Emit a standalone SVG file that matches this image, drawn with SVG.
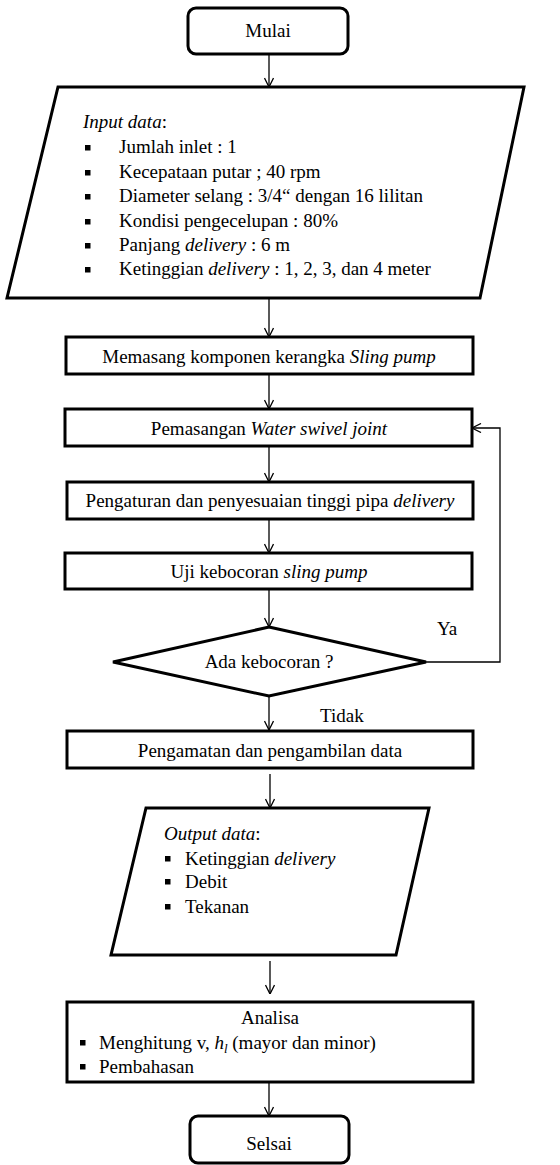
<svg xmlns="http://www.w3.org/2000/svg" width="560" height="1165" viewBox="0 0 560 1165">
<style>
.box{fill:#fff;stroke:#000;stroke-width:3}
.con{fill:none;stroke:#000;stroke-width:1.3}
text{font-family:"Liberation Serif","Times New Roman",serif;font-size:19px;fill:#000}
.c{text-anchor:middle}
.i{font-style:italic}
.b{fill:#000}
</style>
<defs>
<marker id="ah" viewBox="0 0 10 10" refX="10" refY="5" markerWidth="10" markerHeight="10" markerUnits="userSpaceOnUse" orient="auto">
<path d="M1,0.5 L10,5 L1,9.5" fill="none" stroke="#000" stroke-width="1.3"/>
</marker>
</defs>
<rect width="560" height="1165" fill="#fff"/>
<g id="connectors">
<path class="con" d="M269,54 V87" marker-end="url(#ah)"/>
<path class="con" d="M269,298 V337" marker-end="url(#ah)"/>
<path class="con" d="M269,374 V409" marker-end="url(#ah)"/>
<path class="con" d="M269,446 V482" marker-end="url(#ah)"/>
<path class="con" d="M269,519 V553" marker-end="url(#ah)"/>
<path class="con" d="M269,589 V627" marker-end="url(#ah)"/>
<path class="con" d="M426,662 H500 V428 H472" marker-end="url(#ah)"/>
<path class="con" d="M269,696 V730" marker-end="url(#ah)"/>
<path class="con" d="M270,774 V808" marker-end="url(#ah)"/>
<path class="con" d="M270,961 V994" marker-end="url(#ah)"/>
<path class="con" d="M269,1082 V1116" marker-end="url(#ah)"/>
<text x="437" y="635">Ya</text>
<text x="320" y="722">Tidak</text>
</g>
<g id="mulai">
<rect class="box" x="188" y="8" width="160" height="46" rx="8"/>
<text class="c" x="268" y="37">Mulai</text>
</g>
<g id="input">
<path class="box" d="M58,87 H524 L480,298 H7 Z"/>
<text x="83" y="128"><tspan class="i">Input data</tspan>:</text>
<rect class="b" x="85" y="145" width="5.5" height="5.5"/>
<text x="119" y="153">Jumlah inlet : 1</text>
<rect class="b" x="85" y="170" width="5.5" height="5.5"/>
<text x="119" y="178">Kecepataan putar ; 40 rpm</text>
<rect class="b" x="85" y="194" width="5.5" height="5.5"/>
<text x="119" y="202">Diameter selang : 3/4“ dengan 16 lilitan</text>
<rect class="b" x="85" y="219" width="5.5" height="5.5"/>
<text x="119" y="227">Kondisi pengecelupan : 80%</text>
<rect class="b" x="85" y="243" width="5.5" height="5.5"/>
<text x="119" y="251">Panjang <tspan class="i">delivery</tspan> : 6 m</text>
<rect class="b" x="85" y="267" width="5.5" height="5.5"/>
<text x="119" y="275">Ketinggian <tspan class="i">delivery</tspan> : 1, 2, 3, dan 4 meter</text>
</g>
<g id="memasang">
<rect class="box" x="66" y="337" width="407" height="37"/>
<text class="c" x="269" y="363">Memasang komponen kerangka <tspan class="i">Sling pump</tspan></text>
</g>
<g id="pemasangan">
<rect class="box" x="65" y="409" width="407" height="37"/>
<text class="c" x="269" y="435">Pemasangan <tspan class="i">Water swivel joint</tspan></text>
</g>
<g id="pengaturan">
<rect class="box" x="67" y="482" width="406" height="37"/>
<text class="c" x="270" y="507">Pengaturan dan penyesuaian tinggi  pipa <tspan class="i">delivery</tspan></text>
</g>
<g id="uji">
<rect class="box" x="65" y="553" width="407" height="36"/>
<text class="c" x="269" y="578">Uji kebocoran <tspan class="i">sling pump</tspan></text>
</g>
<g id="ada">
<path class="box" d="M269,627 L426,662 L269,696 L113,662 Z"/>
<text class="c" x="269" y="668">Ada kebocoran ?</text>
</g>
<g id="pengamatan">
<rect class="box" x="67" y="731" width="406" height="37"/>
<text class="c" x="270" y="757">Pengamatan dan pengambilan data</text>
</g>
<g id="output">
<path class="box" d="M146,808 H429 L396,955 H111 Z"/>
<text x="164" y="840"><tspan class="i">Output data</tspan>:</text>
<rect class="b" x="165" y="856" width="5.5" height="5.5"/>
<text x="185" y="865">Ketinggian <tspan class="i">delivery</tspan></text>
<rect class="b" x="165" y="879" width="5.5" height="5.5"/>
<text x="185" y="888">Debit</text>
<rect class="b" x="165" y="904" width="5.5" height="5.5"/>
<text x="185" y="913">Tekanan</text>
</g>
<g id="analisa">
<rect class="box" x="67" y="1002" width="406" height="80"/>
<text class="c" x="270" y="1024">Analisa</text>
<rect class="b" x="80" y="1040" width="5.5" height="5.5"/>
<text x="99" y="1049">Menghitung v, <tspan class="i">h</tspan><tspan class="i" font-size="13" dy="4">l</tspan><tspan dy="-4"> (mayor dan minor)</tspan></text>
<rect class="b" x="80" y="1064" width="5.5" height="5.5"/>
<text x="99" y="1073">Pembahasan</text>
</g>
<g id="selsai">
<rect class="box" x="190" y="1116" width="159" height="47" rx="8"/>
<text class="c" x="269" y="1150">Selsai</text>
</g>
</svg>
